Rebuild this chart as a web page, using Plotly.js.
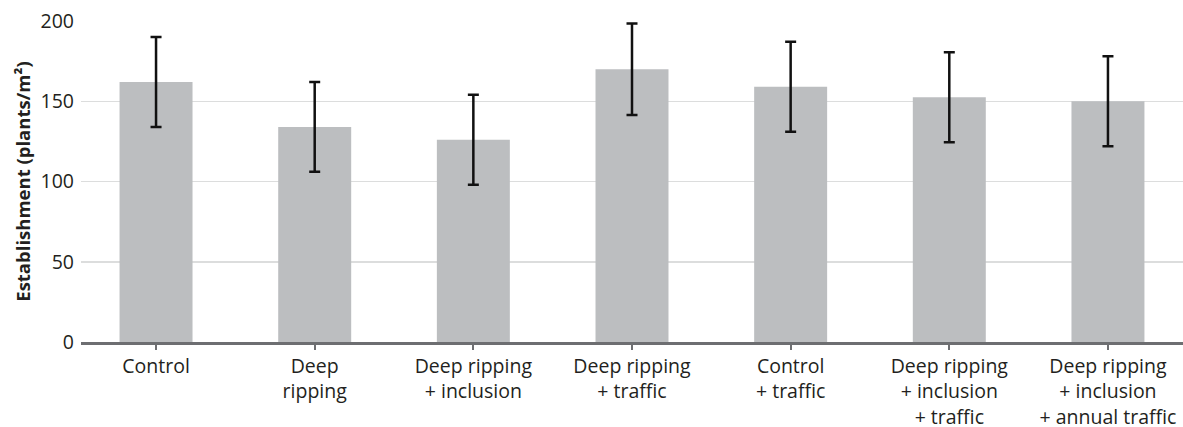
<!DOCTYPE html>
<html>
<head>
<meta charset="utf-8">
<script src="https://cdn.plot.ly/plotly-3.0.1.min.js"></script>
<style>html,body{margin:0;padding:0;background:#fff;}#chart{width:1183px;height:427px;}</style>
</head>
<body>
<div id="chart"></div>
<script>
const categories = [
  "Control",
  "Deep<br>ripping",
  "Deep ripping<br>+ inclusion",
  "Deep ripping<br>+ traffic",
  "Control<br>+ traffic",
  "Deep ripping<br>+ inclusion<br>+ traffic",
  "Deep ripping<br>+ inclusion<br>+ annual traffic"
];
const establishment = [162, 134, 126, 170, 159, 152.5, 150];
const errors = [28, 28, 28, 28.5, 28, 28, 28];

const trace = {
  type: "bar",
  x: categories,
  y: establishment,
  width: 0.46,
  marker: {color: "#bcbec0"},
  error_y: {type: "data", array: errors, visible: true, color: "#111111", thickness: 2.5, width: 5.5},
  hoverinfo: "x+y"
};

const layout = {
  width: 1183, height: 427,
  margin: {l: 81, r: 0, t: 21, b: 85},
  paper_bgcolor: "#ffffff", plot_bgcolor: "#ffffff",
  font: {family: "Open Sans, sans-serif", color: "#231f20", size: 20},
  showlegend: false,
  xaxis: {
    type: "category",
    range: [-0.473, 6.473],
    showline: true, linecolor: "#6d6e71", linewidth: 2.5,
    ticks: "outside", ticklen: 5, tickcolor: "#6d6e71", tickwidth: 2,
    showgrid: false, zeroline: false,
    tickfont: {size: 19.5}
  },
  yaxis: {
    range: [0, 200],
    tickvals: [0, 50, 100, 150, 200],
    showgrid: true, gridcolor: "#dcdddd", gridwidth: 1.5,
    zeroline: false, showline: false,
    ticks: "", ticklabelstandoff: 6,
    tickfont: {size: 19.5},
    title: {text: "Establishment (plants/m²)", font: {size: 18.5, weight: "bold"}, standoff: 5}
  }
};

Plotly.newPlot("chart", [trace], layout, {displayModeBar: false, staticPlot: true});
</script>
</body>
</html>
